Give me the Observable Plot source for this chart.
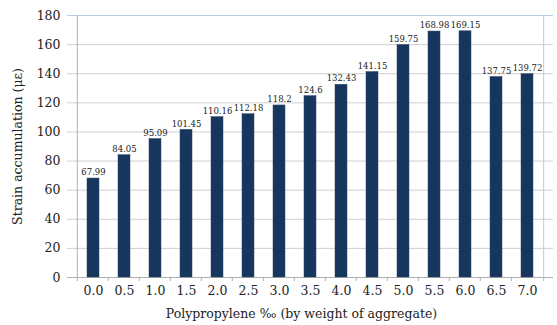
<!DOCTYPE html>
<html><head><meta charset="utf-8">
<script src="https://cdn.jsdelivr.net/npm/d3@7"></script>
<script src="https://cdn.jsdelivr.net/npm/@observablehq/plot@0.6"></script>
<style>
body{margin:0;background:#fff;}
</style>
</head><body><div id="chart"></div>
<script>
const categories = ["0.0","0.5","1.0","1.5","2.0","2.5","3.0","3.5","4.0","4.5","5.0","5.5","6.0","6.5","7.0"];
const values = [67.99,84.05,95.09,101.45,110.16,112.18,118.2,124.6,132.43,141.15,159.75,168.98,169.15,137.75,139.72];
const labels = ["67.99","84.05","95.09","101.45","110.16","112.18","118.2","124.6","132.43","141.15","159.75","168.98","169.15","137.75","139.72"];
const yTicks = [0,20,40,60,80,100,120,140,160,180];

const data = categories.map((c,i)=>({c, v: values[i], l: labels[i]}));
const W = 557, H = 325, mL = 67, mR = 4, mT = 15, mB = 48;
const step = (W - mL - mR) / categories.length;
const FF = "'DejaVu Serif'";

const chart = Plot.plot({
  width: W, height: H,
  marginLeft: mL, marginRight: mR, marginTop: mT, marginBottom: mB,
  style: {fontSize: "12px", color: "#222", background: "#fff"},
  x: {domain: categories, padding: 0.6, label: null, tickSize: 0},
  y: {domain: [0,180], ticks: yTicks, label: null, tickSize: 0},
  marks: [
    Plot.gridY(yTicks, {stroke: "#cfcfcf", strokeOpacity: 1}),
    Plot.ruleY([180], {stroke: "#b8cce4"}),
    Plot.ruleX([categories[categories.length-1]], {dx: step/2, stroke: "#b8cce4"}),
    Plot.ruleX([categories[0]], {dx: -step/2, stroke: "#b0b0b0"}),
    Plot.ruleY([0], {stroke: "#b0b0b0"}),
    Plot.ruleX(categories, {x: d=>d, dx: -step/2, y1: 0, y2: 0, insetBottom: -4, stroke: "#b0b0b0"}),
    Plot.ruleX([categories[categories.length-1]], {dx: step/2, y1: 0, y2: 0, insetBottom: -4, stroke: "#b0b0b0"}),
    Plot.barY(data, {x: "c", y: "v", fill: "#17365d", stroke: "#2c4a70", strokeWidth: 0.5}),
    Plot.text(data, {x: "c", y: "v", text: "l", dy: -6, fontSize: 8.5, fontFamily: FF, fill: "#222"}),
    Plot.axisX({tickSize: 0, tickPadding: 9, fontSize: 12.5, fontFamily: FF}),
    Plot.axisY(yTicks, {tickSize: 0, tickPadding: 7, fontSize: 12.5, fontFamily: FF}),
    Plot.text(["Polypropylene \u2030 (by weight of aggregate)"], {frameAnchor: "bottom", dy: mB - 8, dx: -9, fontSize: 12.5, fontFamily: FF, fill: "#222"}),
    Plot.text(["Strain accumulation (\u03bc\u03b5)"], {frameAnchor: "left", textAnchor: "middle", dx: -(mL - 17), rotate: -90, fontSize: 12.5, fontFamily: FF, fill: "#222"})
  ]
});
document.getElementById("chart").append(chart);
</script>
</body></html>
